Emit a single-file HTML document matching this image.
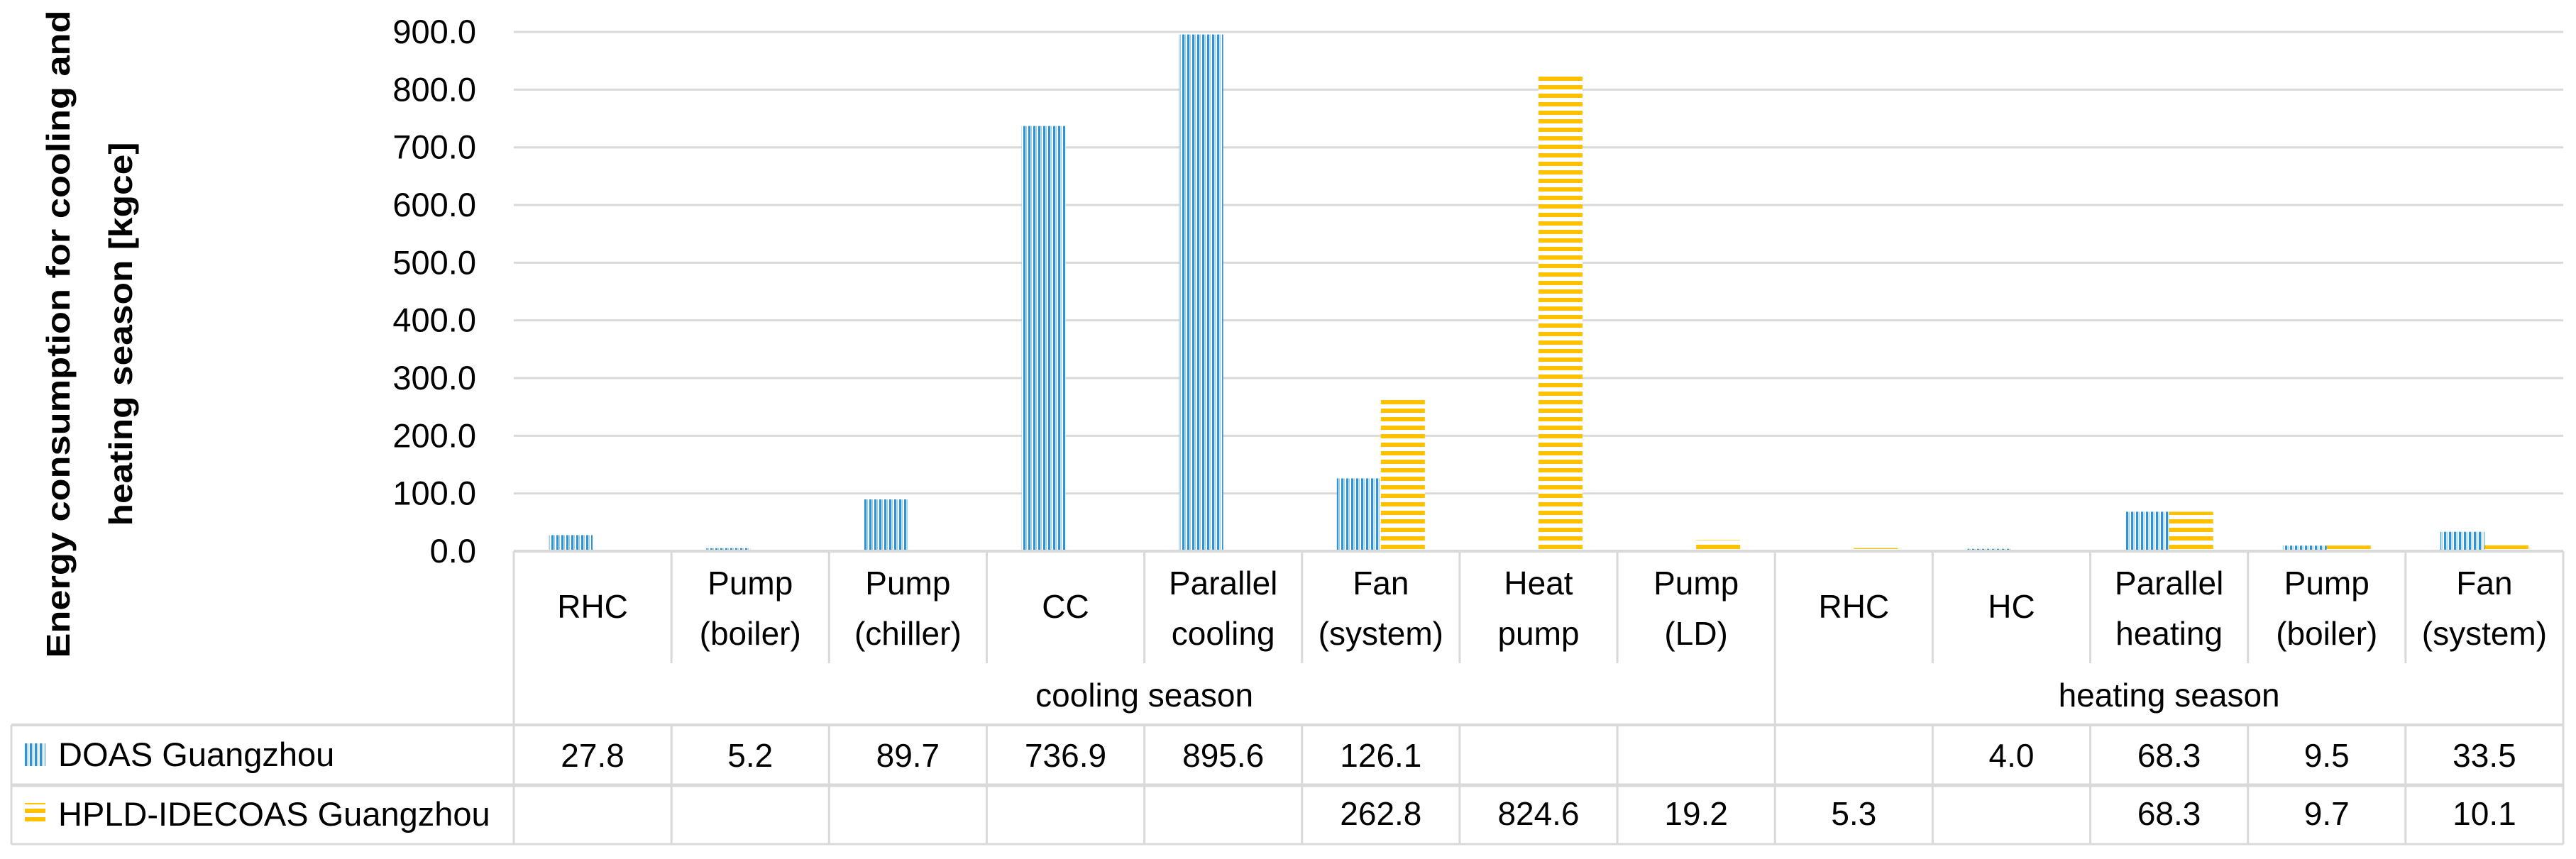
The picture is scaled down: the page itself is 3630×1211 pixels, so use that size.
<!DOCTYPE html>
<html><head><meta charset="utf-8"><style>
html,body{margin:0;padding:0;background:#fff;}
svg{display:block;font-family:"Liberation Sans",sans-serif;}
</style></head><body>
<svg id="chart" width="3630" height="1211" viewBox="0 0 3630 1211" xmlns="http://www.w3.org/2000/svg">
<defs>
<pattern id="pBlue" patternUnits="userSpaceOnUse" width="7" height="10">
<rect x="0" y="0" width="7" height="10" fill="#ffffff"/>
<rect x="0" y="0" width="3" height="10" fill="#2c95d8"/>
<rect x="3.5" y="0" width="1.5" height="10" fill="#9ccbee"/>
</pattern>
<pattern id="pYellow" patternUnits="userSpaceOnUse" width="10" height="12">
<rect x="0" y="0" width="10" height="12" fill="#ffffff"/>
<rect x="0" y="0" width="10" height="6" fill="#ffc000"/>
</pattern>
</defs>
<g id="grid"></g>
<g id="bars"></g>
<g id="ticks" font-size="47" fill="#000"></g>
<g id="table"></g>
<g font-weight="bold" font-size="46" fill="#000">
<text transform="translate(98,471) rotate(-90)" text-anchor="middle" textLength="913" lengthAdjust="spacingAndGlyphs">Energy consumption for cooling and</text>
<text transform="translate(186,471) rotate(-90)" text-anchor="middle" textLength="541" lengthAdjust="spacingAndGlyphs">heating season [kgce]</text>
</g>
</svg>
<script>
const categories = [["RHC"],["Pump","(boiler)"],["Pump","(chiller)"],["CC"],["Parallel","cooling"],["Fan","(system)"],["Heat","pump"],["Pump","(LD)"],["RHC"],["HC"],["Parallel","heating"],["Pump","(boiler)"],["Fan","(system)"]];
const seasons = ["cooling season","heating season"];
const seasonSpans = [8,5];
const seriesNames = ["DOAS Guangzhou","HPLD-IDECOAS Guangzhou"];
const doasValues = [27.8,5.2,89.7,736.9,895.6,126.1,null,null,null,4.0,68.3,9.5,33.5];
const hpldValues = [null,null,null,null,null,262.8,824.6,19.2,5.3,null,68.3,9.7,10.1];
const yTicks = [0,100,200,300,400,500,600,700,800,900];

const NS = "http://www.w3.org/2000/svg";
const plotL = 724, plotR = 3612, y0 = 777, pxPer = 0.8133;
const colW = (plotR - plotL) / categories.length;
const barW = 62;
function yScale(v){ return y0 - v * pxPer; }
function xCenter(i){ return plotL + colW * (i + 0.5); }
function mk(tag, attrs, parent){
  const e = document.createElementNS(NS, tag);
  for (const k in attrs) e.setAttribute(k, attrs[k]);
  parent.appendChild(e); return e;
}
const grid = document.getElementById('grid');
const ticks = document.getElementById('ticks');
yTicks.forEach(t => {
  const y = yScale(t);
  if (t > 0) {
    const l = mk('line', {x1: plotL, x2: plotR, y1: y, y2: y, stroke: '#d9d9d9', 'stroke-width': 3}, grid);
    
    
  }
  const tx = mk('text', {x: 671, y: y + 16, 'text-anchor': 'end'}, ticks);
  tx.textContent = t.toFixed(1);
  
  
});
const bars = document.getElementById('bars');
categories.forEach((c, i) => {
  const cx = xCenter(i);
  const a = doasValues[i], b = hpldValues[i];
  if (a !== null) {
    const r = mk('rect', {x: cx - barW, y: yScale(a), width: barW, height: a * pxPer, fill: 'url(#pBlue)'}, bars);
    
    
  }
  if (b !== null) {
    const r = mk('rect', {x: cx, y: yScale(b), width: barW, height: b * pxPer, fill: 'url(#pYellow)'}, bars);
    
    
  }
});
const table = document.getElementById('table');
const lc = '#d9d9d9';
function hl(x1, x2, y, w){ const l = mk('line', {x1, x2, y1: y, y2: y, stroke: lc, 'stroke-width': w || 3}, table);   }
function vl(x, y1, y2){ const l = mk('line', {x1: x, x2: x, y1, y2, stroke: lc, 'stroke-width': 3}, table);   }
hl(plotL, plotR, 777, 4);
hl(16, plotR, 1022, 4);
hl(16, plotR, 1107, 5);
hl(16, plotR, 1190, 3);
vl(16, 1022, 1190);
for (let i = 0; i <= categories.length; i++) {
  const x = plotL + colW * i;
  vl(x, 777, 935);
  vl(x, 1022, 1190);
}
let acc = 0;
vl(plotL, 935, 1022);
seasonSpans.forEach((s, k) => {
  const xa = plotL + colW * acc; acc += s;
  const xb = plotL + colW * acc;
  vl(xb, 935, 1022);
  const t = mk('text', {x: (xa + xb) / 2, y: 996, 'text-anchor': 'middle', 'font-size': 46}, table);
  t.textContent = seasons[k];
  
  
});
categories.forEach((c, i) => {
  const cx = xCenter(i);
  const ys = c.length === 1 ? [871] : [838, 909];
  c.forEach((line, j) => {
    const t = mk('text', {x: cx, y: ys[j], 'text-anchor': 'middle', 'font-size': 46}, table);
    t.textContent = line;
    
    
  });
  [[doasValues[i], 1081], [hpldValues[i], 1163]].forEach(([v, y]) => {
    if (v === null) return;
    const t = mk('text', {x: cx, y: y, 'text-anchor': 'middle', 'font-size': 46}, table);
    t.textContent = v.toFixed(1);
    
    
  });
});
[[1064, 'url(#pBlue)'], [1148, 'url(#pYellow)']].forEach(([y, f], k) => {
  const r = mk('rect', {x: 35, y: y - 16, width: 29, height: 32, fill: f}, table);
  
  
  const t = mk('text', {x: 82, y: y + 16, 'font-size': 47}, table);
  t.textContent = seriesNames[k];
  
  
});
</script>
</body></html>
